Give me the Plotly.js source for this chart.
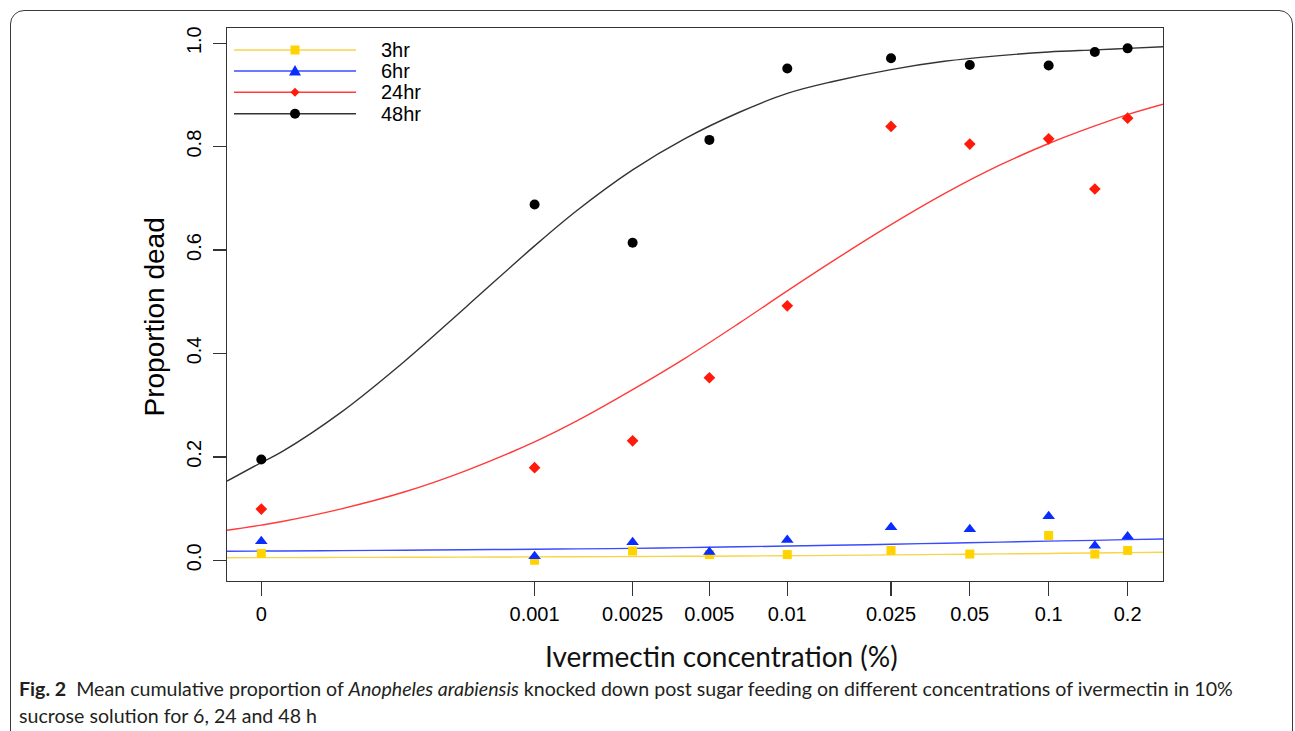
<!DOCTYPE html>
<html>
<head>
<meta charset="utf-8">
<script src="https://cdn.plot.ly/plotly-3.0.1.min.js"></script>
<style>
  html, body { margin: 0; padding: 0; background: #ffffff; }
  #wrap { position: relative; width: 1295px; height: 731px; overflow: hidden; }
  #chart { position: absolute; left: 0; top: 0; width: 1295px; height: 731px; }
  #frame { position: absolute; left: 10px; top: 10px; width: 1283px; height: 900px;
           border: 1.3px solid #3a3a3a; border-radius: 14px; pointer-events: none; box-sizing: border-box; }
</style>
</head>
<body>
<div id="wrap">
  <div id="chart"></div>
  <div id="frame"></div>
</div>
<script>
// ---------------- data ----------------
const conc = [0, 0.001, 0.0025, 0.005, 0.01, 0.025, 0.05, 0.1, 0.15, 0.2];
const tickConc = [0, 0.001, 0.0025, 0.005, 0.01, 0.025, 0.05, 0.1, 0.2];
const tickLabels = ['0', '0.001', '0.0025', '0.005', '0.01', '0.025', '0.05', '0.1', '0.2'];
const axisOffset = 0.0001; // concentration shift used by the log axis so that 0 can be shown

const seriesNames = ['3hr', '6hr', '24hr', '48hr'];
const hr3  = [0.013, 0.000, 0.018, 0.011, 0.011, 0.019, 0.012, 0.048, 0.012, 0.019];
const hr6  = [0.037, 0.008, 0.035, 0.016, 0.039, 0.064, 0.060, 0.085, 0.028, 0.046];
const hr24 = [0.099, 0.179, 0.231, 0.353, 0.492, 0.839, 0.805, 0.815, 0.718, 0.855];
const hr48 = [0.195, 0.688, 0.614, 0.813, 0.951, 0.971, 0.958, 0.957, 0.983, 0.990];

// fitted curves
const curveConc = [-0.000026, 0, 0.00002, 0.0001, 0.00025, 0.0005, 0.001, 0.0015, 0.0025, 0.004,
                   0.0065, 0.01, 0.015, 0.025, 0.04, 0.065, 0.1, 0.15, 0.2, 0.273];
const fit3  = [0.0050, 0.0051, 0.0052, 0.0055, 0.0058, 0.0061, 0.0065, 0.0068, 0.0072, 0.0077,
               0.0082, 0.0088, 0.0095, 0.0104, 0.0113, 0.0123, 0.0132, 0.0141, 0.0148, 0.0155];
const fit6  = [0.0174, 0.0178, 0.0180, 0.0187, 0.0195, 0.0203, 0.0213, 0.0220, 0.0230, 0.0245,
               0.0260, 0.0275, 0.0290, 0.0310, 0.0330, 0.0350, 0.0370, 0.0385, 0.0400, 0.0410];
const fit24 = [0.058, 0.068, 0.075, 0.099, 0.132, 0.173, 0.229, 0.270, 0.330, 0.390,
               0.458, 0.521, 0.579, 0.649, 0.709, 0.764, 0.806, 0.840, 0.862, 0.882];
const fit48 = [0.153, 0.189, 0.210, 0.285, 0.384, 0.489, 0.608, 0.677, 0.755, 0.815,
               0.866, 0.903, 0.926, 0.949, 0.965, 0.976, 0.983, 0.987, 0.990, 0.993];

const yTicks = [0, 0.2, 0.4, 0.6, 0.8, 1.0];
const yTickLabels = ['0.0', '0.2', '0.4', '0.6', '0.8', '1.0'];

// ---------------- styles ----------------
const lineColors = ['#F7D44A', '#3A4BFF', '#FF3B3B', '#333333'];
const markerColors = ['#FFD200', '#0A2CFF', '#FF1A0A', '#000000'];
const markerSymbols = ['square', 'triangle-up', 'diamond', 'circle'];
const markerSizes = [9, 11, 9, 10];

const shift = arr => arr.map(c => c + axisOffset);
const obs = [hr3, hr6, hr24, hr48];
const fits = [fit3, fit6, fit24, fit48];

const traces = [];
fits.forEach((f, i) => {
  traces.push({
    x: shift(curveConc), y: f, type: 'scatter', mode: 'lines',
    line: { color: lineColors[i], width: 1.4, shape: 'spline', smoothing: 1 },
    name: seriesNames[i] + ' fit', showlegend: false, hoverinfo: 'skip'
  });
});
obs.forEach((o, i) => {
  traces.push({
    x: shift(conc), y: o, type: 'scatter', mode: 'markers',
    marker: { symbol: markerSymbols[i], size: markerSizes[i], color: markerColors[i], line: { width: 0 } },
    name: seriesNames[i], showlegend: false, cliponaxis: false
  });
});

// ---------------- layout ----------------
const W = 1295, H = 731;
const mL = 227, mR = 132, mT = 28, mB = 150;
const pw = W - mL - mR, ph = H - mT - mB;
const px = x => (x - mL) / pw;          // page pixel -> paper x
const py = y => (H - mB - y) / ph;      // page pixel -> paper y

const shapes = [];
const annotations = [];

// custom legend (R-style long line samples)
const legRows = [50, 71, 92.3, 113.8];
legRows.forEach((ry, i) => {
  shapes.push({ type: 'line', xref: 'paper', yref: 'paper', x0: px(234), x1: px(356), y0: py(ry), y1: py(ry),
                line: { color: lineColors[i], width: 1.4 } });
  const base = { xref: 'paper', yref: 'paper', xsizemode: 'pixel', ysizemode: 'pixel',
                 xanchor: px(295), yanchor: py(ry), fillcolor: markerColors[i], line: { width: 0 } };
  if (i === 0) shapes.push(Object.assign({ type: 'rect', x0: -4.5, x1: 4.5, y0: -4.5, y1: 4.5 }, base));
  if (i === 1) shapes.push(Object.assign({ type: 'path', path: 'M-6,-4.5 L6,-4.5 L0,6 Z' }, base));
  if (i === 2) shapes.push(Object.assign({ type: 'path', path: 'M0,-4.5 L4.5,0 L0,4.5 L-4.5,0 Z' }, base));
  if (i === 3) shapes.push(Object.assign({ type: 'circle', x0: -5, x1: 5, y0: -5, y1: 5 }, base));
  annotations.push({ xref: 'paper', yref: 'paper', x: px(379), y: py(ry), xanchor: 'left', yanchor: 'middle',
                     text: seriesNames[i], showarrow: false,
                     font: { family: 'Liberation Sans, Arial, sans-serif', size: 20, color: '#000' } });
});

// axis titles
annotations.push({ xref: 'paper', yref: 'paper', x: px(721), y: py(656), xanchor: 'center', yanchor: 'middle',
                   text: 'Ivermectin concentration (%)', showarrow: false,
                   font: { family: 'Lato, Open Sans, sans-serif', size: 28, color: '#111' } });
annotations.push({ xref: 'paper', yref: 'paper', x: px(154), y: py(317.5), xanchor: 'center', yanchor: 'middle',
                   text: 'Proportion dead', textangle: -90, showarrow: false,
                   font: { family: 'Liberation Sans, Arial, sans-serif', size: 28, color: '#000' } });

// caption
annotations.push({ xref: 'paper', yref: 'paper', x: px(17), y: py(688), xanchor: 'left', yanchor: 'middle',
                   text: '<b>Fig. 2</b>  Mean cumulative proportion of <i>Anopheles arabiensis</i> knocked down post sugar feeding on different concentrations of ivermectin in 10%',
                   showarrow: false, font: { family: 'Lato, Open Sans, sans-serif', size: 19.6, color: '#231f20' } });
annotations.push({ xref: 'paper', yref: 'paper', x: px(17), y: py(715), xanchor: 'left', yanchor: 'middle',
                   text: 'sucrose solution for 6, 24 and 48 h',
                   showarrow: false, font: { family: 'Lato, Open Sans, sans-serif', size: 19.6, color: '#231f20' } });

const layout = {
  width: W, height: H,
  margin: { l: mL, r: mR, t: mT, b: mB, pad: 0 },
  paper_bgcolor: '#ffffff', plot_bgcolor: '#ffffff',
  showlegend: false,
  font: { family: 'Liberation Sans, Arial, sans-serif', size: 20, color: '#000' },
  xaxis: {
    type: 'log', range: [-4.1307, -0.5639],
    tickmode: 'array', tickvals: shift(tickConc), ticktext: tickLabels,
    ticks: 'outside', ticklen: 14, tickwidth: 1.3, tickcolor: '#333',
    ticklabelstandoff: 1,
    showline: true, linecolor: '#333', linewidth: 1.3, mirror: true,
    showgrid: false, zeroline: false,
    tickfont: { family: 'Liberation Sans, Arial, sans-serif', size: 20, color: '#000' }
  },
  yaxis: {
    range: [-0.0401, 1.0294],
    tickmode: 'array', tickvals: yTicks, ticktext: yTickLabels, tickangle: -90,
    ticks: 'outside', ticklen: 13, tickwidth: 1.3, tickcolor: '#333',
    ticklabelstandoff: 4,
    showline: true, linecolor: '#333', linewidth: 1.3, mirror: true,
    showgrid: false, zeroline: false,
    tickfont: { family: 'Liberation Sans, Arial, sans-serif', size: 20, color: '#000' }
  },
  shapes: shapes,
  annotations: annotations
};

Plotly.newPlot('chart', traces, layout, { displayModeBar: false, staticPlot: true });
</script>
</body>
</html>
